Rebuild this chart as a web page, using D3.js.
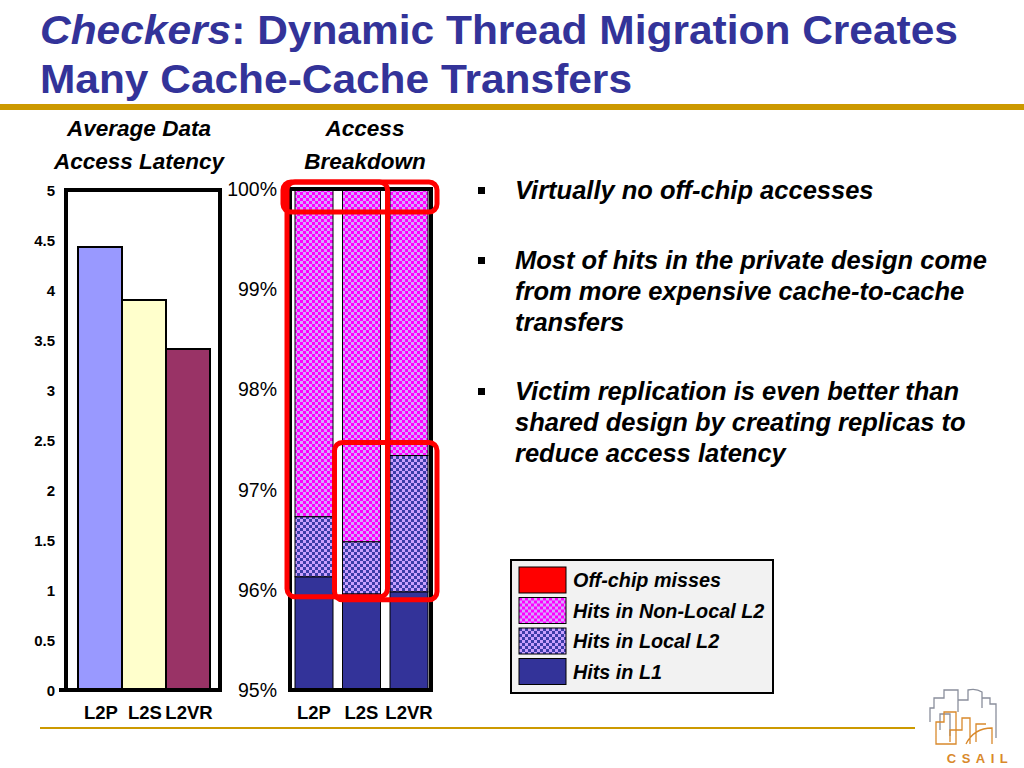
<!DOCTYPE html>
<html>
<head>
<meta charset="utf-8">
<script src="https://cdn.jsdelivr.net/npm/d3@7"></script>
<style>
  body { margin: 0; background: #fff; }
  svg { display: block; font-family: "Liberation Sans", Arial, Helvetica, sans-serif; }
</style>
</head>
<body>
<svg id="slide" width="1024" height="768"></svg>
<script>
// Data
var configs = ["L2P", "L2S", "L2VR"];
var latency = [4.43, 3.9, 3.41];
var latencyTicks = [0, 0.5, 1, 1.5, 2, 2.5, 3, 3.5, 4, 4.5, 5];
var breakdownTicks = [95, 96, 97, 98, 99, 100];
var segments = ["Hits in L1", "Hits in Local L2", "Hits in Non-Local L2", "Off-chip misses"];
// percent of accesses, bottom to top
var hitsL1 = [96.13, 95.96, 95.98];
var hitsLocal = [0.60, 0.52, 1.36];
var hitsNonLocal = [3.26, 3.51, 2.65];
var offChip = [0.01, 0.01, 0.01];
var legendOrder = ["Off-chip misses", "Hits in Non-Local L2", "Hits in Local L2", "Hits in L1"];
var bullets = [
    ["Virtually no off-chip accesses"],
    ["Most of hits in the private design come", "from more expensive cache-to-cache", "transfers"],
    ["Victim replication is even better than", "shared design by creating replicas to", "reduce access latency"]
];

var blue = "#333399", gold = "#cc9900";
var svg = d3.select("#slide");

// patterns for the checkered segments
var defs = svg.append("defs");
function checker(id, a, b) {
    var p = defs.append("pattern").attr("id", id)
        .attr("width", 6).attr("height", 6)
        .attr("patternUnits", "userSpaceOnUse");
    p.append("rect").attr("width", 6).attr("height", 6).attr("fill", b);
    p.append("rect").attr("width", 3).attr("height", 3).attr("fill", a);
    p.append("rect").attr("x", 3).attr("y", 3).attr("width", 3).attr("height", 3).attr("fill", a);
}
checker("nonlocal", "#ff00ff", "#d7a6ff");
checker("local", "#3c3ca8", "#c9a0ff");

var segFill = {
    "Hits in L1": blue,
    "Hits in Local L2": "url(#local)",
    "Hits in Non-Local L2": "url(#nonlocal)",
    "Off-chip misses": "#ff0000"
};

// ---- title ----
var title = svg.append("g").attr("fill", blue).attr("font-weight", "bold").attr("font-size", 41);
var t1 = title.append("text").attr("x", 40).attr("y", 44)
    .attr("textLength", 918).attr("lengthAdjust", "spacingAndGlyphs");
t1.append("tspan").attr("font-style", "italic").text("Checkers");
t1.append("tspan").text(": Dynamic Thread Migration Creates");
title.append("text").attr("x", 40).attr("y", 93)
    .attr("textLength", 592).attr("lengthAdjust", "spacingAndGlyphs")
    .text("Many Cache-Cache Transfers");

svg.append("rect").attr("x", 0).attr("y", 104).attr("width", 1024).attr("height", 6).attr("fill", gold);
svg.append("rect").attr("x", 40).attr("y", 727).attr("width", 875).attr("height", 2).attr("fill", gold);

// ---- left chart: average data access latency ----
var yL = d3.scaleLinear().domain([0, 5]).range([690, 190]);
var xL = d3.scaleBand().domain(configs).range([78, 210]).padding(0);

var left = svg.append("g");
left.append("g").attr("font-weight", "bold").attr("font-style", "italic").attr("font-size", 22.5)
    .attr("text-anchor", "middle")
    .selectAll("text").data(["Average Data", "Access Latency"]).enter()
    .append("text").attr("x", 139).attr("y", function(d, i) { return 136 + i * 33; })
    .text(function(d) { return d; });

left.selectAll(".lbar")
    .data(latency).enter()
    .append("rect")
    .attr("class", "lbar")
    .attr("x", function(d, i) { return xL(configs[i]); })
    .attr("y", function(d) { return yL(d); })
    .attr("width", xL.bandwidth())
    .attr("height", function(d) { return yL(0) - yL(d); })
    .attr("fill", function(d, i) { return ["#9999ff", "#ffffcc", "#993366"][i]; })
    .attr("stroke", "#000").attr("stroke-width", 2);

left.append("rect").attr("x", 66).attr("y", yL(5)).attr("width", 154).attr("height", yL(0) - yL(5))
    .attr("fill", "none").attr("stroke", "#000").attr("stroke-width", 4);
left.append("line").attr("x1", 59).attr("x2", 222).attr("y1", yL(0)).attr("y2", yL(0))
    .attr("stroke", "#000").attr("stroke-width", 4);

left.append("g").attr("font-weight", "bold").attr("font-size", 15).attr("text-anchor", "end")
    .selectAll("text").data(latencyTicks).enter()
    .append("text").attr("x", 55).attr("y", function(d) { return yL(d) + 6; })
    .text(function(d) { return d; });

left.append("g").attr("font-weight", "bold").attr("font-size", 18.5).attr("text-anchor", "middle")
    .selectAll("text").data(configs).enter()
    .append("text").attr("x", function(d) { return xL(d) + xL.bandwidth() / 2 + 1; }).attr("y", 719)
    .text(function(d) { return d; });

// ---- right chart: access breakdown ----
var yR = d3.scaleLinear().domain([95, 100]).range([690, 189]);
var xR = d3.scaleBand().domain(configs).range([295, 428]).paddingInner(0.2);

var right = svg.append("g");
right.append("g").attr("font-weight", "bold").attr("font-style", "italic").attr("font-size", 22.5)
    .attr("text-anchor", "middle")
    .selectAll("text").data(["Access", "Breakdown"]).enter()
    .append("text").attr("x", 365).attr("y", function(d, i) { return 136 + i * 33; })
    .text(function(d) { return d; });

var table = configs.map(function(c, i) {
    return {
        config: c,
        "Hits in L1": hitsL1[i] - 95,
        "Hits in Local L2": hitsLocal[i],
        "Hits in Non-Local L2": hitsNonLocal[i],
        "Off-chip misses": offChip[i]
    };
});
var stacked = d3.stack().keys(segments)(table);

right.selectAll(".series")
    .data(stacked).enter()
    .append("g").attr("class", "series")
    .attr("fill", function(d) { return segFill[d.key]; })
    .selectAll("rect")
    .data(function(d) { return d; }).enter()
    .append("rect")
    .attr("x", function(d) { return xR(d.data.config); })
    .attr("y", function(d) { return yR(Math.min(100, 95 + d[1])); })
    .attr("width", xR.bandwidth())
    .attr("height", function(d) { return yR(95 + d[0]) - yR(Math.min(100, 95 + d[1])); })
    .attr("stroke", "#000").attr("stroke-width", 1);

right.append("rect").attr("x", 290).attr("y", yR(100)).attr("width", 141).attr("height", yR(95) - yR(100))
    .attr("fill", "none").attr("stroke", "#000").attr("stroke-width", 4);

right.append("g").attr("font-size", 19.5).attr("text-anchor", "end")
    .selectAll("text").data(breakdownTicks).enter()
    .append("text").attr("x", 277).attr("y", function(d) { return yR(d) + 7; })
    .text(function(d) { return d + "%"; });

right.append("g").attr("font-weight", "bold").attr("font-size", 18.5).attr("text-anchor", "middle")
    .selectAll("text").data(configs).enter()
    .append("text").attr("x", function(d) { return xR(d) + xR.bandwidth() / 2; }).attr("y", 719)
    .text(function(d) { return d; });

// red highlight boxes
var bw = xR.bandwidth();
var boxes = [
    {x0: 283, x1: 437, y0: yR(100) - 7, y1: yR(100) + 23},
    {x0: xR("L2P") - 8, x1: xR("L2S") + bw + 7, y0: yR(100) - 7, y1: yR(95.93)},
    {x0: xR("L2S") - 8, x1: xR("L2VR") + bw + 9, y0: yR(97.47), y1: yR(95.9)}
];
right.selectAll(".hl")
    .data(boxes).enter()
    .append("rect").attr("class", "hl")
    .attr("x", function(d) { return d.x0; }).attr("y", function(d) { return d.y0; })
    .attr("width", function(d) { return d.x1 - d.x0; }).attr("height", function(d) { return d.y1 - d.y0; })
    .attr("rx", 8).attr("fill", "none").attr("stroke", "#ff0000").attr("stroke-width", 5);

// ---- legend ----
var legend = svg.append("g");
legend.append("rect").attr("x", 511).attr("y", 560).attr("width", 262).attr("height", 133)
    .attr("fill", "#f2f2f2").attr("stroke", "#000").attr("stroke-width", 2);
var item = legend.selectAll(".item")
    .data(legendOrder).enter()
    .append("g").attr("class", "item")
    .attr("transform", function(d, i) { return "translate(519," + (567 + i * 30.5) + ")"; });
item.append("rect").attr("width", 47).attr("height", 26)
    .attr("fill", function(d) { return segFill[d]; })
    .attr("stroke", "#000").attr("stroke-width", 1);
item.append("text").attr("x", 54).attr("y", 20)
    .attr("font-size", 19.8).attr("font-weight", "bold").attr("font-style", "italic")
    .text(function(d) { return d; });

// ---- bullets ----
var bl = svg.append("g").attr("font-size", 25.5).attr("font-weight", "bold").attr("font-style", "italic");
var blockTops = [199, 269, 400];
bullets.forEach(function(lines, i) {
    bl.append("rect").attr("x", 478).attr("y", blockTops[i] - 12).attr("width", 7).attr("height", 7).attr("fill", "#000");
    lines.forEach(function(s, j) {
        bl.append("text").attr("x", 515).attr("y", blockTops[i] + j * 31).text(s);
    });
});

// ---- CSAIL logo ----
var logo = svg.append("g").attr("fill", "none").attr("stroke-width", 1.3);
logo.append("path").attr("stroke", "#8a8f9c")
    .attr("d", "M930,722 L930,708 L934,708 L934,698 L944,698 L944,690 L958,690 L958,712 M958,700 L968,700 L968,690 Q976,688 982,692 L982,708 M982,698 L990,698 L990,704 L996,704 L996,738 M940,730 L940,714 L950,714 L950,736");
logo.append("path").attr("stroke", "#d9892b")
    .attr("d", "M936,744 L936,722 L944,722 L944,712 L956,712 L956,744 Z M950,742 L950,730 L962,730 L962,718 L970,718 L970,744 M966,744 Q974,728 992,728 L992,744 M976,742 L976,724 L986,724");
svg.append("text").attr("x", 980).attr("y", 763).attr("text-anchor", "middle")
    .attr("font-size", 13).attr("font-weight", "bold").attr("letter-spacing", 5.5)
    .attr("fill", "#d9892b").text("CSAIL");
</script>
</body>
</html>
